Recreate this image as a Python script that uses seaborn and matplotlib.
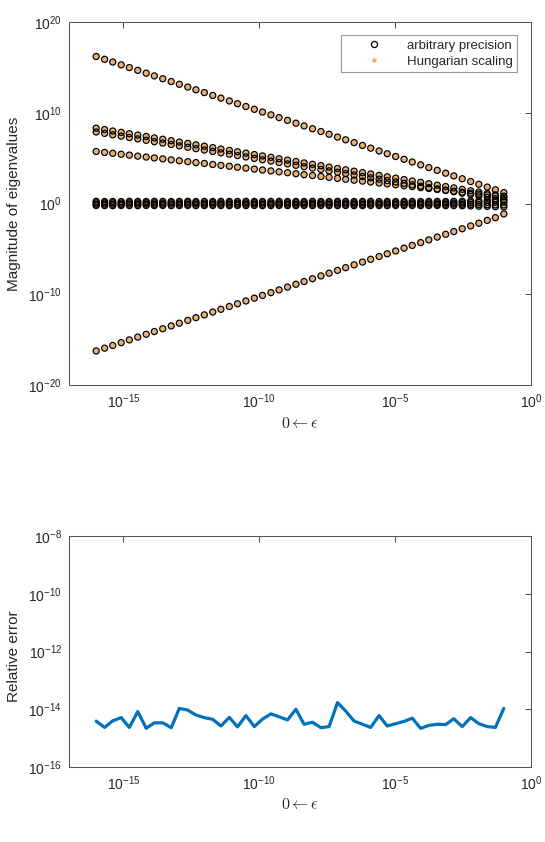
import numpy as np
import pandas as pd
import matplotlib
matplotlib.use('Agg')
import matplotlib.pyplot as plt
from matplotlib.lines import Line2D
from matplotlib.ticker import NullLocator, FixedLocator
import seaborn as sns

# exponents of epsilon (x grid, 50 samples)
EPS_EXP = [-16.00, -15.69, -15.39, -15.08, -14.78, -14.47, -14.16, -13.86, -13.55, -13.24,
           -12.94, -12.63, -12.33, -12.02, -11.71, -11.41, -11.10, -10.80, -10.49, -10.18,
           -9.88, -9.57, -9.27, -8.96, -8.65, -8.35, -8.04, -7.73, -7.43, -7.12,
           -6.82, -6.51, -6.20, -5.90, -5.59, -5.29, -4.98, -4.67, -4.37, -4.06,
           -3.76, -3.45, -3.14, -2.84, -2.53, -2.22, -1.92, -1.61, -1.31, -1.00]

# log10 |eigenvalue| for each branch
TOP_BRANCH = [16.20, 15.89, 15.59, 15.28, 14.98, 14.67, 14.36, 14.06, 13.75, 13.44,
              13.14, 12.83, 12.53, 12.22, 11.91, 11.61, 11.30, 11.00, 10.69, 10.38,
              10.08, 9.77, 9.47, 9.16, 8.85, 8.55, 8.24, 7.93, 7.63, 7.32,
              7.02, 6.71, 6.40, 6.10, 5.79, 5.49, 5.18, 4.87, 4.57, 4.26,
              3.96, 3.65, 3.34, 3.04, 2.73, 2.42, 2.12, 1.81, 1.51, 1.20]
PAIR_UPPER = [8.30, 8.15, 7.99, 7.84, 7.69, 7.54, 7.38, 7.23, 7.08, 6.92,
              6.77, 6.62, 6.46, 6.31, 6.16, 6.00, 5.85, 5.70, 5.55, 5.39,
              5.24, 5.09, 4.93, 4.78, 4.63, 4.47, 4.32, 4.17, 4.01, 3.86,
              3.71, 3.56, 3.40, 3.25, 3.10, 2.94, 2.79, 2.64, 2.48, 2.33,
              2.18, 2.02, 1.87, 1.72, 1.56, 1.41, 1.26, 1.10, 0.95, 0.80]
PAIR_LOWER = [7.88, 7.73, 7.57, 7.42, 7.27, 7.12, 6.96, 6.81, 6.66, 6.50,
              6.35, 6.20, 6.04, 5.89, 5.74, 5.58, 5.43, 5.28, 5.13, 4.97,
              4.82, 4.67, 4.51, 4.36, 4.21, 4.05, 3.90, 3.75, 3.59, 3.44,
              3.29, 3.14, 2.98, 2.83, 2.68, 2.52, 2.37, 2.22, 2.06, 1.91,
              1.76, 1.60, 1.45, 1.30, 1.14, 0.99, 0.84, 0.68, 0.53, 0.38]
MID_BRANCH = [5.73, 5.63, 5.53, 5.43, 5.33, 5.22, 5.12, 5.02, 4.92, 4.81,
              4.71, 4.61, 4.51, 4.41, 4.30, 4.20, 4.10, 4.00, 3.90, 3.79,
              3.69, 3.59, 3.49, 3.39, 3.28, 3.18, 3.08, 2.98, 2.88, 2.77,
              2.67, 2.57, 2.47, 2.37, 2.26, 2.16, 2.06, 1.96, 1.86, 1.75,
              1.65, 1.55, 1.45, 1.35, 1.24, 1.14, 1.04, 0.94, 0.84, 0.73]
CLUSTER_A = [0.24, 0.22, 0.23, 0.22, 0.24, 0.23, 0.22, 0.24, 0.23, 0.22,
             0.23, 0.24, 0.22, 0.23, 0.22, 0.24, 0.23, 0.22, 0.24, 0.23,
             0.22, 0.23, 0.24, 0.22, 0.23, 0.22, 0.24, 0.23, 0.22, 0.24,
             0.23, 0.22, 0.23, 0.24, 0.22, 0.23, 0.22, 0.24, 0.23, 0.22,
             0.24, 0.23, 0.22, 0.24, 0.25, 0.28, 0.30, 0.33, 0.36, 0.40]
CLUSTER_B = [0.08, 0.07, 0.08, 0.06, 0.08, 0.07, 0.08, 0.07, 0.06, 0.08,
             0.07, 0.08, 0.07, 0.06, 0.08, 0.07, 0.08, 0.06, 0.07, 0.08,
             0.07, 0.06, 0.08, 0.07, 0.08, 0.07, 0.06, 0.08, 0.07, 0.08,
             0.06, 0.07, 0.08, 0.07, 0.06, 0.08, 0.07, 0.08, 0.07, 0.06,
             0.08, 0.07, 0.08, 0.07, 0.09, 0.10, 0.11, 0.12, 0.14, 0.15]
CLUSTER_C = [-0.08, -0.07, -0.08, -0.09, -0.07, -0.08, -0.07, -0.09, -0.08, -0.07,
             -0.08, -0.09, -0.07, -0.08, -0.07, -0.08, -0.09, -0.07, -0.08, -0.07,
             -0.09, -0.08, -0.07, -0.08, -0.09, -0.07, -0.08, -0.07, -0.09, -0.08,
             -0.07, -0.08, -0.09, -0.07, -0.08, -0.07, -0.08, -0.09, -0.07, -0.08,
             -0.07, -0.09, -0.08, -0.07, -0.09, -0.10, -0.12, -0.13, -0.15, -0.16]
CLUSTER_D = [-0.22, -0.23, -0.24, -0.22, -0.23, -0.24, -0.22, -0.23, -0.22, -0.24,
             -0.23, -0.22, -0.24, -0.23, -0.22, -0.23, -0.24, -0.22, -0.23, -0.22,
             -0.24, -0.23, -0.22, -0.23, -0.24, -0.22, -0.23, -0.22, -0.24, -0.23,
             -0.22, -0.24, -0.23, -0.22, -0.23, -0.24, -0.22, -0.23, -0.22, -0.24,
             -0.23, -0.22, -0.24, -0.23, -0.25, -0.27, -0.30, -0.32, -0.35, -0.38]
LOW_BRANCH = [-16.25, -15.94, -15.64, -15.33, -15.03, -14.72, -14.41, -14.11, -13.80, -13.49,
              -13.19, -12.88, -12.58, -12.27, -11.96, -11.66, -11.35, -11.05, -10.74, -10.43,
              -10.13, -9.82, -9.52, -9.21, -8.90, -8.60, -8.29, -7.98, -7.68, -7.37,
              -7.07, -6.76, -6.45, -6.15, -5.84, -5.54, -5.23, -4.92, -4.62, -4.31,
              -4.01, -3.70, -3.39, -3.09, -2.78, -2.47, -2.17, -1.86, -1.56, -1.15]

# log10 relative error between the two methods
REL_ERR = [-14.41, -14.63, -14.40, -14.29, -14.63, -14.08, -14.66, -14.47, -14.47, -14.64,
           -13.97, -14.03, -14.20, -14.29, -14.35, -14.58, -14.28, -14.61, -14.22, -14.60,
           -14.34, -14.16, -14.26, -14.37, -14.00, -14.52, -14.45, -14.64, -14.60, -13.77,
           -14.06, -14.41, -14.52, -14.63, -14.22, -14.58, -14.50, -14.42, -14.31, -14.66,
           -14.56, -14.52, -14.53, -14.33, -14.60, -14.29, -14.50, -14.60, -14.63, -13.97]

BRANCHES = [TOP_BRANCH, PAIR_UPPER, PAIR_LOWER, MID_BRANCH,
            CLUSTER_A, CLUSTER_B, CLUSTER_C, CLUSTER_D, LOW_BRANCH]

ORANGE = '#F2AE68'
BLUE = '#0072BD'
TXT = '#262626'

sns.set_theme(style="white")
plt.rcParams['font.family'] = ['Liberation Sans', 'DejaVu Sans']
plt.rcParams['axes.edgecolor'] = '#555555'
plt.rcParams['axes.linewidth'] = 0.75
plt.rcParams['xtick.color'] = TXT
plt.rcParams['ytick.color'] = TXT

eps = 10.0 ** np.array(EPS_EXP)
rows = []
for b in BRANCHES:
    for x, v in zip(eps, b):
        rows.append({'eps': x, 'mag': 10.0 ** v})
df_eig = pd.DataFrame(rows)
df_err = pd.DataFrame({'eps': eps, 'err': 10.0 ** np.array(REL_ERR)})

fig = plt.figure(figsize=(5.45, 8.42), dpi=100)
W, H = 545, 842
ax1 = fig.add_axes([69 / W, 1 - 385 / H, 462 / W, 363 / H])
ax2 = fig.add_axes([69 / W, 1 - 767 / H, 462 / W, 231 / H])

# --- top: eigenvalue magnitudes ---
sns.scatterplot(data=df_eig, x='eps', y='mag', ax=ax1, s=12, color=ORANGE,
                edgecolor='none', linewidth=0, zorder=2, legend=False)
sns.scatterplot(data=df_eig, x='eps', y='mag', ax=ax1, s=19, facecolor='none',
                edgecolor='black', linewidth=0.9, zorder=3, legend=False)

# --- bottom: relative error ---
sns.lineplot(data=df_err, x='eps', y='err', ax=ax2, color=BLUE, linewidth=2.3,
             estimator=None)

for ax in (ax1, ax2):
    ax.set_xscale('log')
    ax.set_yscale('log')
    ax.set_xlim(1e-17, 1e0)
    ax.xaxis.set_major_locator(FixedLocator([1e-15, 1e-10, 1e-5, 1e0]))
    ax.xaxis.set_minor_locator(NullLocator())
    ax.yaxis.set_minor_locator(NullLocator())
    ax.tick_params(which='major', direction='in', length=4, width=0.6,
                   top=True, right=True, labelsize=10, pad=5, colors=TXT)
    ax.set_xlabel(r'$0 \leftarrow \epsilon$', fontsize=11.5, color=TXT,
                  math_fontfamily='cm')

ax1.set_ylim(1e-20, 1e20)
ax1.yaxis.set_major_locator(FixedLocator([1e-20, 1e-10, 1e0, 1e10, 1e20]))
ax1.set_ylabel('Magnitude of eigenvalues', fontsize=11, color=TXT)
ax1.yaxis.set_label_coords(-0.103, 0.5)
ax1.xaxis.set_label_coords(0.5, -0.085)

ax2.set_ylim(1e-16, 1e-8)
ax2.yaxis.set_major_locator(FixedLocator([1e-16, 1e-14, 1e-12, 1e-10, 1e-8]))
ax2.set_ylabel('Relative error', fontsize=11, color=TXT)
ax2.yaxis.set_label_coords(-0.103, 0.48)
ax2.xaxis.set_label_coords(0.5, -0.13)

handles = [
    Line2D([], [], linestyle='none', marker='o', markersize=4.4,
           markerfacecolor='none', markeredgecolor='black', markeredgewidth=0.9),
    Line2D([], [], linestyle='none', marker='o', markersize=3.2,
           markerfacecolor=ORANGE, markeredgecolor='none'),
]
leg = ax1.legend(handles, ['arbitrary precision', 'Hungarian scaling'],
                 loc='upper right', bbox_to_anchor=(0.97, 0.965), borderaxespad=0,
                 fontsize=9.5, frameon=True, fancybox=False, framealpha=1,
                 edgecolor='#999999', borderpad=0.35, labelspacing=0.3,
                 handlelength=4.3, handletextpad=0.3)
leg.get_frame().set_linewidth(0.8)
for t in leg.get_texts():
    t.set_color(TXT)

fig.savefig('out.png', dpi=100)
